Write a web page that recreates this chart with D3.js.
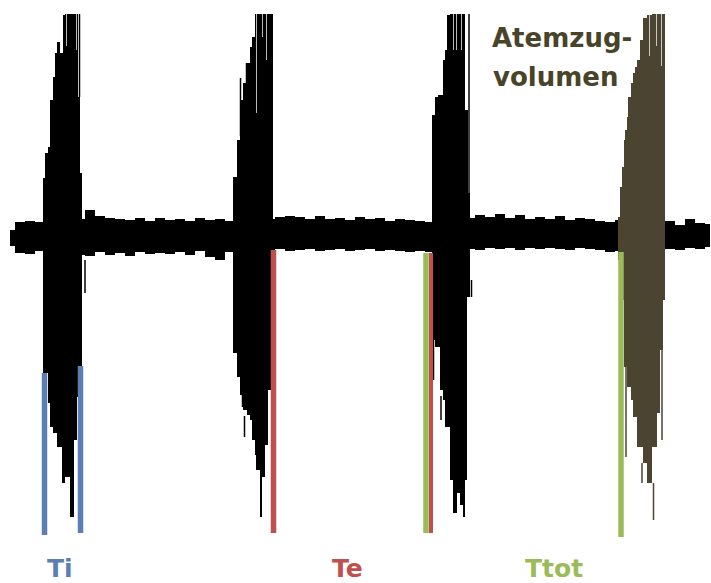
<!DOCTYPE html>
<html lang="de">
<head>
<meta charset="utf-8">
<title>Atemzugvolumen</title>
<script src="https://cdn.jsdelivr.net/npm/d3@7/dist/d3.min.js"></script>
<style>
    body { margin: 0; background: #fff; }
    svg { display: block; }
</style>
</head>
<body>
<svg width="711" height="583"></svg>
<script>
// Rauschband (Ruheatmung), Abtastung alle 10 Einheiten
var bandT = d3.range(10, 720, 10);
var bandHi = [6,14,15,14,16,16,16,17,26,20,18,17,16,18,15,18,16,17,15,18,16,17,15,16,16,16,17,19,20,19,
              17,20,17,18,16,19,17,18,15,17,16,15,14,16,16,16,18,21,19,22,18,21,17,19,17,20,16,18,17,15,
              14,16,16,16,16,16,15,11,17,13,12];
var bandLo = [-10,-17,-18,-15,-19,-19,-19,-19,-20,-16,-19,-17,-20,-16,-18,-17,-18,-16,-19,-15,-21,-24,-16,-15,-14,-16,-14,-13,-15,-14,
              -13,-15,-14,-13,-15,-14,-13,-15,-14,-15,-16,-15,-16,-14,-14,-14,-13,-14,-12,-13,-12,-14,-12,-13,-12,-13,-14,-12,-13,-14,
              -16,-15,-15,-15,-15,-15,-13,-14,-12,-13,-11];

// Atemzüge (Hüllkurven)
var burst1T  = [43,45,48,50,53,55,57,60,62,63,65,68,70,74,77,78,80,82];
var burst1Hi = [58,83,89,136,159,183,194,183,183,221,222,222,222,222,222,139,63,63];
var burst1Lo = [-137,-137,-167,-191,-197,-197,-211,-211,-247,-247,-241,-241,-281,-204,-161,-161,-131,-131];

var burst2T  = [233,237,240,243,247,250,252,255,256,258,260,262,265,268,271,273];
var burst2Hi = [59,96,136,153,173,189,199,222,222,222,222,222,222,222,222,222];
var burst2Lo = [-117,-141,-159,-174,-179,-184,-204,-219,-234,-234,-281,-241,-209,-154,-154,-154];

var burst3T  = [432,435,438,440,443,445,447,450,453,457,460,463,465,467,468,470];
var burst3Hi = [121,139,141,141,176,186,221,222,222,222,222,222,126,126,43,43];
var burst3Lo = [-104,-111,-111,-154,-164,-191,-191,-244,-277,-257,-269,-281,-244,-61,-61,-61];

var burst4T  = [618,620,622,624,625,627,628,631,633,635,637,640,643,647,650,652,655,657,660,663,665];
var burst4Hi = [19,49,69,96,106,119,139,153,163,169,176,196,218,221,221,222,222,222,222,222,222];
var burst4Lo = [-24,-34,-64,-131,-131,-151,-151,-164,-181,-181,-211,-211,-227,-247,-247,-211,-211,-177,-114,-64,-64];

// einzelne Ausreisser [t, von, bis]
var spikes = [[79.5,222,139],[51.5,-150,-191],[85,-24,-57],
              [240.5,158,100],[246.5,173,150],[242.5,-150,-171],[244.5,-180,-201],
              [433.5,-104,-144],[441,-160,-184],[469,222,43],[471.5,-44,-61],
              [626,-131,-221],[642,-227,-247],[653.5,-247,-284],[662,-114,-204]];
var gaps = [[66.5,222,190],[76.5,222,186],
            [256.5,222,123],[262.5,222,199],[266.5,222,176],
            [453.5,222,186],[456.5,222,186],[461.5,222,186],
            [649.5,222,180],[656.5,222,190],[661.5,222,170]];

// Zeitmarken
var markerT    = [44.5, 80.5, 273.5, 431, 426, 621];
var markerFrom = [-137, -130, -14, -17, -17, -16];
var markerTo   = [-299, -297, -297, -297, -297, -301];
var markerKind = ['Ti', 'Ti', 'Te', 'Te', 'Ttot', 'Ttot'];

var labels = ['Ti', 'Te', 'Ttot'];
var title = ['Atemzug-', 'volumen'];

var colors = {Ti: '#5b7fb4', Te: '#c0504d', Ttot: '#9bbb59'};
var burstColors = ['#000', '#000', '#000', '#4a4430'];

var svg = d3.select('svg');

var x = d3.scaleLinear().domain([0, 711]).range([0, 711]);
var y = d3.scaleLinear().domain([-300, 300]).range([536, -64]);

var band = bandT.map((t, i) => ({t: t, hi: bandHi[i], lo: bandLo[i]}));

var area = d3.area()
    .x(d => x(d.t))
    .y0(d => y(d.lo))
    .y1(d => y(d.hi));

svg.append('path')
    .datum(band)
    .attr('d', area.curve(d3.curveStep))
    .style('fill', '#000');

var bursts = [[burst1T, burst1Hi, burst1Lo], [burst2T, burst2Hi, burst2Lo],
              [burst3T, burst3Hi, burst3Lo], [burst4T, burst4Hi, burst4Lo]]
    .map(b => b[0].map((t, i) => ({t: t, hi: b[1][i], lo: b[2][i]})));

svg.selectAll('path.burst')
    .data(bursts)
    .enter()
    .append('path')
    .attr('class', 'burst')
    .attr('d', area.curve(d3.curveStepAfter))
    .style('fill', (d, i) => burstColors[i]);

svg.selectAll('line.spike')
    .data(spikes)
    .enter()
    .append('line')
    .attr('class', 'spike')
    .attr('x1', d => x(d[0]))
    .attr('x2', d => x(d[0]))
    .attr('y1', d => y(d[1]))
    .attr('y2', d => y(d[2]))
    .style('stroke', d => d[0] > 600 ? burstColors[3] : '#000')
    .style('stroke-width', 1.5);

svg.selectAll('line.gap')
    .data(gaps)
    .enter()
    .append('line')
    .attr('class', 'gap')
    .attr('x1', d => x(d[0]))
    .attr('x2', d => x(d[0]))
    .attr('y1', d => y(d[1]))
    .attr('y2', d => y(d[2]))
    .style('stroke', '#e8e8e8')
    .style('stroke-width', 0.8);

svg.selectAll('line.marker')
    .data(markerT)
    .enter()
    .append('line')
    .attr('class', 'marker')
    .attr('x1', d => x(d))
    .attr('x2', d => x(d))
    .attr('y1', (d, i) => y(markerFrom[i]))
    .attr('y2', (d, i) => y(markerTo[i]))
    .style('stroke', (d, i) => colors[markerKind[i]])
    .style('stroke-width', (d, i) => markerKind[i] == 'Te' && d > 400 ? 4 : 5.5);

var labelX = [47, 332, 525];

svg.selectAll('text.label')
    .data(labels)
    .enter()
    .append('text')
    .attr('class', 'label')
    .attr('x', (d, i) => labelX[i])
    .attr('y', 577)
    .text(d => d)
    .style('font-family', 'DejaVu Sans')
    .style('font-weight', 'bold')
    .style('font-size', '25px')
    .style('fill', d => colors[d]);

svg.selectAll('text.title')
    .data(title)
    .enter()
    .append('text')
    .attr('class', 'title')
    .attr('x', (d, i) => 492 + i)
    .attr('y', (d, i) => 47 + i * 39)
    .text(d => d)
    .style('font-family', 'DejaVu Sans')
    .style('font-weight', 'bold')
    .style('font-size', '26px')
    .style('fill', '#494429');
</script>
</body>
</html>
